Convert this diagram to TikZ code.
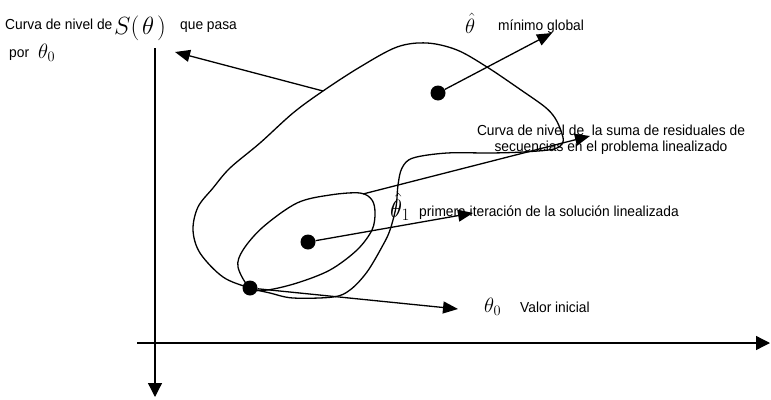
\documentclass[tikz,border=0pt]{standalone}
\usepackage{fontspec}
\setmainfont{Liberation Sans}
\newfontfamily\lblfont[FakeStretch=0.95]{Liberation Sans}
\usetikzlibrary{arrows.meta}
\tikzset{
  lbl/.style={font=\lblfont\fontsize{14.5}{16}\selectfont, inner sep=0pt, anchor=base west},
  mth/.style={inner sep=0pt, anchor=base west},
  dotnode/.style={circle, fill=black, inner sep=0pt, minimum size=15pt},
  curve/.style={line width=1.3pt},
  arr/.style={line width=1.3pt, -{Triangle[length=15pt,width=12pt]}},
  axisline/.style={line width=1.3pt, -{Triangle[length=14pt,width=14pt]}},
}
\begin{document}
\begin{tikzpicture}[x=1pt,y=-1pt]
\useasboundingbox (0,0) rectangle (771,399);
% axes
\coordinate (vtop) at (155,48);
\coordinate (vbot) at (155,397);
\coordinate (hleft) at (137,343);
\coordinate (hright) at (770,343);
\draw[axisline] (vtop) -- (vbot);
\draw[axisline] (hleft) -- (hright);
% big level curve of S(theta)
\draw[curve] plot[smooth cycle, tension=0.55] coordinates {
 (250,288) (223,277) (200,253) (193,230) (198,207) (213,188) (230,168)
 (260,143) (293,113) (323,91) (360,67) (397,47) (427,43) (457,50)
 (487,67) (521,90) (545,107) (555,118) (561,131) (563,142) (554,149)
 (523,152) (490,153) (447,153) (413,158) (402,168) (398,185) (396,207)
 (390,230) (383,245) (367,272) (350,290) (333,297) (293,298) (270,293)};
% small ellipse (linearized problem)
\draw[curve] plot[smooth cycle, tension=0.55] coordinates {
 (250,288) (238,267) (243,250) (263,227) (297,203) (330,195) (360,193)
 (372,200) (375,213) (372,230) (357,250) (330,270) (297,283) (267,290)};
% dots
\node[dotnode] (th0) at (250,288) {};
\node[dotnode] (c1) at (308,242) {};
\node[dotnode] (gmin) at (438,93) {};
% points on curves and arrow tips
\coordinate (bigpt) at (323,91);
\coordinate (ellpt) at (363,194);
\coordinate (tipS) at (175,52);
\coordinate (tipmin) at (552,33);
\coordinate (tipres) at (590,136);
\coordinate (tipit) at (473,213);
\coordinate (tipv) at (458,309);
\draw[arr] (bigpt) -- (tipS);
\draw[arr] (gmin) -- (tipmin);
\draw[arr] (ellpt) -- (tipres);
\draw[arr] (c1) -- (tipit);
\draw[arr] (th0) -- (tipv);
% texts
\node[lbl] (lvlA) at (5,29) {Curva de nivel de};
\node[mth, font=\fontsize{32}{32}\selectfont] (lvlS) at (114,34) {$S\big(\mkern2mu\theta\mkern2mu\big)$};
\node[lbl] (lvlB) at (180,29) {que pasa};
\node[lbl] (por) at (9,57) {por};
\node[mth, font=\fontsize{21}{21}\selectfont] (porth) at (38,58) {$\theta_0$};
\node[mth, font=\fontsize{22}{22}\selectfont] (thhat) at (465,33) {$\hat{\theta}$};
\node[lbl] (minlbl) at (498,30) {mínimo global};
\node[font=\lblfont\fontsize{14.5}{16}\selectfont, inner sep=0pt, anchor=north, align=center] (reslbl) at (611,125)
  {Curva de nivel de\ \ la suma de residuales de\\secuencias en el problema linealizado};
\node[mth, font=\fontsize{23}{23}\selectfont] (th1) at (390,217) {$\hat{\theta}_1$};
\node[lbl] (itlbl) at (419,216) {primera iteración de la solución linealizada};
\node[mth, font=\fontsize{21}{21}\selectfont] (thv) at (484,312) {$\theta_0$};
\node[lbl] (vlbl) at (520,312) {Valor inicial};
\end{tikzpicture}
\end{document}
